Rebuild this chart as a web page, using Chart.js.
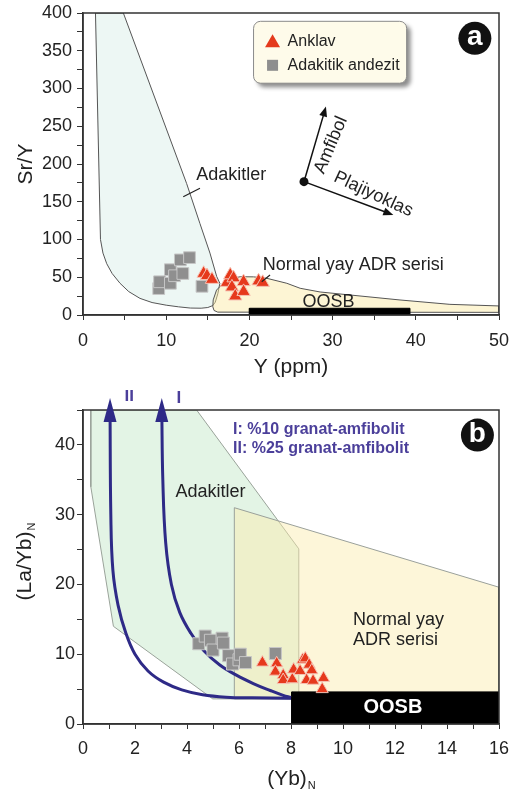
<!DOCTYPE html>
<html>
<head>
<meta charset="utf-8">
<script src="https://cdn.jsdelivr.net/npm/chart.js@4.4.0/dist/chart.umd.min.js"></script>
<style>
  html, body { margin: 0; padding: 0; background: #fff; }
  #wrapA { position: absolute; left: 0; top: 0; width: 512px; height: 390px; }
  #wrapB { position: absolute; left: 0; top: 390px; width: 512px; height: 405px; }
</style>
</head>
<body>
<div id="wrapA"><canvas id="chartA"></canvas></div>
<div id="wrapB"><canvas id="chartB"></canvas></div>
<script>
const FONT = '"Liberation Sans", Arial, sans-serif';

// ---------- (a) Sr/Y vs Y (ppm) ----------
const anklavYa = [14.5, 14.9, 15.5, 17.3, 17.7, 18.1, 17.9, 18.3, 19.3, 19.3, 21.1, 21.6];
const anklavSrYa = [55, 52, 47, 43, 53, 49, 37, 25, 44, 31, 45, 43];
const andezitYa = [9.1, 9.2, 10.5, 10.5, 11.0, 11.7, 12.0, 12.8, 14.3];
const andezitSrYa = [35, 44, 42, 60, 52, 73, 55, 76, 38];

const adakiteFieldYa = [1.5, 2.1, 2.4, 2.85, 3.5, 4.45, 5.5, 6.85, 8.3, 10.0, 11.5, 12.9, 14.2, 15.0, 15.6, 15.9, 16.2, 16.45, 16.07, 15.26, 14.06, 12.46, 4.85, 1.5];
const adakiteFieldSrYa = [400, 100, 82, 68, 55, 42, 31, 22, 16.5, 13, 10.8, 9.2, 9.0, 9.9, 12.5, 17, 28, 42, 51, 82, 121, 174, 400, 400];
const adrFieldYa = [16.2, 15.75, 15.6, 15.65, 16.05, 16.85, 17.8, 18.9, 20.5, 22.1, 24.5, 26.1, 28.5, 32.1, 38.1, 44.1, 50, 50, 16.2];
const adrFieldSrYa = [3.8, 6, 11, 20, 33, 42, 48, 50.7, 50.5, 48.6, 42, 35.4, 30.5, 26.5, 19.9, 14.1, 12, 3.5, 3.8];
const oosbYa = [20, 39.3, 39.3, 20, 20];
const oosbSrYa = [0, 0, 8.9, 8.9, 0];

const xLabelsA = [0, 10, 20, 30, 40, 50];
const yLabelsA = [0, 50, 100, 150, 200, 250, 300, 350, 400];

// vector diagram (data coords)
const vecOriginA = [26.56, 176.6];
const vecAmfibolA = [29.2, 276];
const vecPlajA = [37.3, 132.5];

// ---------- (b) (La/Yb)N vs (Yb)N ----------
const anklavYbN = [6.9, 7.45, 7.4, 7.7, 7.7, 8.05, 8.1, 8.35, 8.45, 8.55, 8.7, 8.8, 8.6, 8.85, 9.25, 9.2];
const anklavLaYbN = [8.8, 8.7, 7.5, 7.0, 6.3, 6.4, 7.8, 7.6, 9.2, 9.4, 8.5, 7.7, 6.3, 6.2, 6.6, 5.0];
const andezitYbN = [4.45, 4.7, 4.9, 5.0, 5.35, 5.4, 5.6, 5.75, 6.0, 6.05, 6.25, 7.4];
const andezitLaYbN = [11.5, 12.6, 12.0, 10.6, 12.3, 11.6, 9.8, 8.6, 9.2, 10.0, 8.8, 10.1];

const adakiteFieldYbN = [0.3, 0.3, 1.17, 4.99, 8.3, 8.3, 4.37, 0.3];
const adakiteFieldLaYbN = [45, 34, 14, 3.6, 3.6, 25.1, 45, 45];
const adrFieldYbN = [5.82, 16, 16, 5.82, 5.82];
const adrFieldLaYbN = [31.0, 19.6, 3.6, 3.6, 31.0];
const oosbYbN = [8.03, 16, 16, 8.03, 8.03];
const oosbLaYbN = [0, 0, 4.6, 4.6, 0];

const curveIYbN = [3.03, 3.07, 3.18, 3.4, 3.72, 4.15, 4.65, 5.25, 5.9, 6.55, 7.2, 7.7, 8.0];
const curveILaYbN = [45, 35, 26, 20, 16, 13, 10.5, 8.5, 7.0, 5.8, 4.8, 4.1, 3.8];
const curveIIYbN = [1.04, 1.07, 1.15, 1.35, 1.65, 2.0, 2.5, 3.1, 3.8, 4.6, 5.5, 6.5, 8.0];
const curveIILaYbN = [45, 30, 22, 17, 13, 10, 7.6, 6.0, 4.9, 4.2, 3.85, 3.75, 3.7];

const xLabelsB = [0, 2, 4, 6, 8, 10, 12, 14, 16];
const yLabelsB = [0, 10, 20, 30, 40];

function zip(xs, ys) {
  return xs.map((v, i) => ({ x: v, y: ys[i] }));
}

function axis(min, max, step, labels, opts) {
  return {
    type: 'linear',
    min: min,
    max: max,
    grid: { drawOnChartArea: false, drawTicks: true, tickLength: opts.tickLength, color: '#333', tickColor: '#333', lineWidth: 1 },
    border: { display: true, color: '#333', width: 1.5 },
    ticks: {
      stepSize: step,
      maxTicksLimit: 100,
      autoSkip: false,
      maxRotation: 0,
      minRotation: 0,
      padding: opts.padding,
      color: '#222',
      font: { family: FONT, size: 18 },
      callback: v => labels.includes(v) ? String(v) : ''
    },
    afterFit: s => {
      if (opts.width) s.width = opts.width;
      if (opts.height) s.height = opts.height;
      s.paddingLeft = 0; s.paddingRight = 0; s.paddingTop = 0; s.paddingBottom = 0;
    }
  };
}

function polygon(data, fill, stroke, order) {
  return { data: data, showLine: true, fill: 'shape', backgroundColor: fill, borderColor: stroke,
           borderWidth: 1, pointRadius: 0, tension: 0, order: order };
}

function arrow(ctx, x0, y0, x1, y1, head, half) {
  const a = Math.atan2(y1 - y0, x1 - x0);
  ctx.beginPath();
  ctx.moveTo(x0, y0);
  ctx.lineTo(x1 - Math.cos(a) * head * 0.7, y1 - Math.sin(a) * head * 0.7);
  ctx.stroke();
  ctx.beginPath();
  ctx.moveTo(x1, y1);
  ctx.lineTo(x1 - Math.cos(a) * head + Math.sin(a) * half, y1 - Math.sin(a) * head - Math.cos(a) * half);
  ctx.lineTo(x1 - Math.cos(a) * head - Math.sin(a) * half, y1 - Math.sin(a) * head + Math.cos(a) * half);
  ctx.closePath();
  ctx.fill();
}

function text(ctx, str, x, y, font, color, align, rot) {
  ctx.save();
  ctx.translate(x, y);
  if (rot) ctx.rotate(rot * Math.PI / 180);
  ctx.font = font;
  ctx.fillStyle = color;
  ctx.textAlign = align || 'center';
  ctx.textBaseline = 'middle';
  ctx.fillText(str, 0, 0);
  ctx.restore();
}

function subTitle(ctx, main, sub, cx, cy, rot) {
  ctx.save();
  ctx.translate(cx, cy);
  if (rot) ctx.rotate(rot * Math.PI / 180);
  ctx.font = '21px ' + FONT;
  const w1 = ctx.measureText(main).width;
  ctx.font = '11px ' + FONT;
  const w2 = ctx.measureText(sub).width;
  const x0 = -(w1 + w2) / 2;
  ctx.fillStyle = '#222';
  ctx.textAlign = 'left';
  ctx.textBaseline = 'alphabetic';
  ctx.font = '21px ' + FONT;
  ctx.fillText(main, x0, 7);
  ctx.font = '11px ' + FONT;
  ctx.fillText(sub, x0 + w1 + 1, 11);
  ctx.restore();
}

function badge(ctx, letter, x, y) {
  ctx.beginPath();
  ctx.arc(x, y, 16.5, 0, Math.PI * 2);
  ctx.fillStyle = '#111';
  ctx.fill();
  text(ctx, letter, x, y - 1, 'bold 28px ' + FONT, '#fff');
}

function frame(ctx, ca) {
  ctx.strokeStyle = '#333';
  ctx.lineWidth = 1.5;
  ctx.strokeRect(ca.left, ca.top, ca.right - ca.left, ca.bottom - ca.top);
}

const decorA = {
  id: 'decorA',
  afterDraw(chart) {
    const { ctx, chartArea: ca, scales: { x, y } } = chart;
    const X = v => x.getPixelForValue(v), Y = v => y.getPixelForValue(v);
    ctx.save();
    frame(ctx, ca);

    // legend box
    const lx0 = X(20.5), lx1 = X(38.9), ly0 = Y(389), ly1 = Y(307);
    ctx.save();
    ctx.shadowColor = 'rgba(0,0,0,0.45)';
    ctx.shadowBlur = 4;
    ctx.shadowOffsetX = 4;
    ctx.shadowOffsetY = 4;
    ctx.beginPath();
    ctx.roundRect(lx0, ly0, lx1 - lx0, ly1 - ly0, 7);
    ctx.fillStyle = '#fefbea';
    ctx.fill();
    ctx.restore();
    ctx.beginPath();
    ctx.roundRect(lx0, ly0, lx1 - lx0, ly1 - ly0, 7);
    ctx.strokeStyle = '#8a8a8a';
    ctx.lineWidth = 1;
    ctx.stroke();
    const mx = lx0 + 19, r1 = ly0 + 20, r2 = ly0 + 44;
    ctx.beginPath();
    ctx.moveTo(mx, r1 - 7);
    ctx.lineTo(mx + 7.5, r1 + 6);
    ctx.lineTo(mx - 7.5, r1 + 6);
    ctx.closePath();
    ctx.fillStyle = '#e43a1c';
    ctx.fill();
    ctx.fillStyle = '#8e8e8e';
    ctx.fillRect(mx - 5.5, r2 - 5.5, 11, 11);
    text(ctx, 'Anklav', lx0 + 34, r1, '16px ' + FONT, '#222', 'left');
    text(ctx, 'Adakitik andezit', lx0 + 34, r2, '16px ' + FONT, '#222', 'left');

    badge(ctx, 'a', X(47.1), Y(366.5));

    // vectors
    ctx.strokeStyle = '#111';
    ctx.fillStyle = '#111';
    ctx.lineWidth = 1.5;
    const ox = X(vecOriginA[0]), oy = Y(vecOriginA[1]);
    arrow(ctx, ox, oy, X(vecAmfibolA[0]), Y(vecAmfibolA[1]), 10, 4);
    arrow(ctx, ox, oy, X(vecPlajA[0]), Y(vecPlajA[1]), 10, 4);
    ctx.beginPath();
    ctx.arc(ox, oy, 4.5, 0, Math.PI * 2);
    ctx.fill();
    text(ctx, 'Amfibol', X(29.8), Y(225), '18px ' + FONT, '#222', 'center', -67);
    text(ctx, 'Plajiyoklas', X(34.9), Y(160), '18px ' + FONT, '#222', 'center', 25);

    // field labels with leaders
    ctx.lineWidth = 1.2;
    ctx.strokeStyle = '#222';
    ctx.beginPath();
    ctx.moveTo(X(12.05), Y(156.7));
    ctx.lineTo(X(14.06), Y(167.8));
    ctx.moveTo(X(21.48), Y(44.1));
    ctx.lineTo(X(22.48), Y(53));
    ctx.stroke();
    text(ctx, 'Adakitler', X(13.6), Y(185), '18px ' + FONT, '#222', 'left');
    text(ctx, 'Normal yay ADR serisi', X(21.6), Y(66), '18px ' + FONT, '#222', 'left');
    text(ctx, 'OOSB', X(29.5), Y(17.6), '18px ' + FONT, '#222');

    // axis titles
    text(ctx, 'Sr/Y', ca.left - 57, (ca.top + ca.bottom) / 2, '21px ' + FONT, '#222', 'center', -90);
    text(ctx, 'Y (ppm)', (ca.left + ca.right) / 2, ca.bottom + 52, '21px ' + FONT, '#222');
    ctx.restore();
  }
};

const decorB = {
  id: 'decorB',
  afterDraw(chart) {
    const { ctx, chartArea: ca, scales: { x, y } } = chart;
    const X = v => x.getPixelForValue(v), Y = v => y.getPixelForValue(v);
    ctx.save();
    frame(ctx, ca);

    // arrow heads on top of the melting curves
    ctx.fillStyle = '#2e2a87';
    [[curveIIYbN[0], curveIILaYbN[0]], [curveIYbN[0], curveILaYbN[0]]].forEach(([cx, cy]) => {
      const px = X(cx), py = Y(cy);
      ctx.beginPath();
      ctx.moveTo(px, py - 12);
      ctx.lineTo(px + 6.5, py + 12);
      ctx.lineTo(px - 6.5, py + 12);
      ctx.closePath();
      ctx.fill();
    });
    const purple = '#4b3f9a';
    text(ctx, 'II', X(1.78), Y(46.9), 'bold 17px ' + FONT, purple);
    text(ctx, 'I', X(3.69), Y(46.7), 'bold 17px ' + FONT, purple);
    text(ctx, 'I: %10 granat-amfibolit', X(5.77), Y(42.2), 'bold 16px ' + FONT, purple, 'left');
    text(ctx, 'II: %25 granat-amfibolit', X(5.77), Y(39.5), 'bold 16px ' + FONT, purple, 'left');

    badge(ctx, 'b', X(15.17), Y(41.4));

    text(ctx, 'Adakitler', X(4.9), Y(33.3), '18px ' + FONT, '#222');
    text(ctx, 'Normal yay', X(10.38), Y(14.9), '18px ' + FONT, '#222', 'left');
    text(ctx, 'ADR serisi', X(10.38), Y(12.0), '18px ' + FONT, '#222', 'left');
    text(ctx, 'OOSB', X(11.92), Y(2.3), 'bold 20px ' + FONT, '#fff');

    subTitle(ctx, '(La/Yb)', 'N', ca.left - 59, (ca.top + ca.bottom) / 2 - 5, -90);
    subTitle(ctx, '(Yb)', 'N', (ca.left + ca.right) / 2, ca.bottom + 54, 0);
    ctx.restore();
  }
};

const common = {
  responsive: true,
  maintainAspectRatio: false,
  devicePixelRatio: 1,
  animation: false,
  plugins: { legend: { display: false }, tooltip: { enabled: false } }
};

new Chart(document.getElementById('chartA'), {
  type: 'line',
  data: {
    datasets: [
      polygon(zip(adakiteFieldYa, adakiteFieldSrYa), '#edf7f4', '#555', 6),
      polygon(zip(adrFieldYa, adrFieldSrYa), 'rgba(250,232,160,0.45)', '#555', 5),
      polygon(zip(oosbYa, oosbSrYa), '#000', '#000', 4),
      { label: 'Adakitik andezit', data: zip(andezitYa, andezitSrYa), showLine: false, pointStyle: 'rect',
        pointRadius: 8.3, backgroundColor: '#8f8f8f', borderColor: '#c6c6c6', borderWidth: 1, order: 2 },
      { label: 'Anklav', data: zip(anklavYa, anklavSrYa), showLine: false, pointStyle: 'triangle',
        pointRadius: 7.7, backgroundColor: '#e6391c', borderColor: '#f6c2b4', borderWidth: 1, order: 1 }
    ]
  },
  options: Object.assign({}, common, {
    layout: { padding: { top: 13, right: 13, bottom: 0, left: 0 } },
    scales: {
      x: axis(0, 50, 5, xLabelsA, { tickLength: 5, padding: 10, height: 75 }),
      y: axis(0, 400, 25, yLabelsA, { tickLength: 6, padding: 5, width: 83 })
    }
  }),
  plugins: [decorA]
});

new Chart(document.getElementById('chartB'), {
  type: 'line',
  data: {
    datasets: [
      polygon(zip(adakiteFieldYbN, adakiteFieldLaYbN), '#e3f4e5', '#9aa39a', 6),
      polygon(zip(adrFieldYbN, adrFieldLaYbN), 'rgba(251,236,170,0.45)', '#9aa09a', 5),
      polygon(zip(oosbYbN, oosbLaYbN), '#000', '#000', 4),
      { label: 'I', data: zip(curveIYbN, curveILaYbN), showLine: true, fill: false, borderColor: '#2e2a87',
        borderWidth: 3, pointRadius: 0, tension: 0.4, order: 3 },
      { label: 'II', data: zip(curveIIYbN, curveIILaYbN), showLine: true, fill: false, borderColor: '#2e2a87',
        borderWidth: 3, pointRadius: 0, tension: 0.4, order: 3 },
      { label: 'Adakitik andezit', data: zip(andezitYbN, andezitLaYbN), showLine: false, pointStyle: 'rect',
        pointRadius: 8.5, backgroundColor: '#8f8f8f', borderColor: '#c6c6c6', borderWidth: 1, order: 2 },
      { label: 'Anklav', data: zip(anklavYbN, anklavLaYbN), showLine: false, pointStyle: 'triangle',
        pointRadius: 7, backgroundColor: '#e6391c', borderColor: '#f6c2b4', borderWidth: 1, order: 1 }
    ]
  },
  options: Object.assign({}, common, {
    layout: { padding: { top: 20, right: 13, bottom: 0, left: 0 } },
    scales: {
      x: axis(0, 16, 1, xLabelsB, { tickLength: 5, padding: 9, height: 71 }),
      y: axis(0, 45, 5, yLabelsB, { tickLength: 6, padding: 2, width: 83 })
    }
  }),
  plugins: [decorB]
});
</script>
</body>
</html>
